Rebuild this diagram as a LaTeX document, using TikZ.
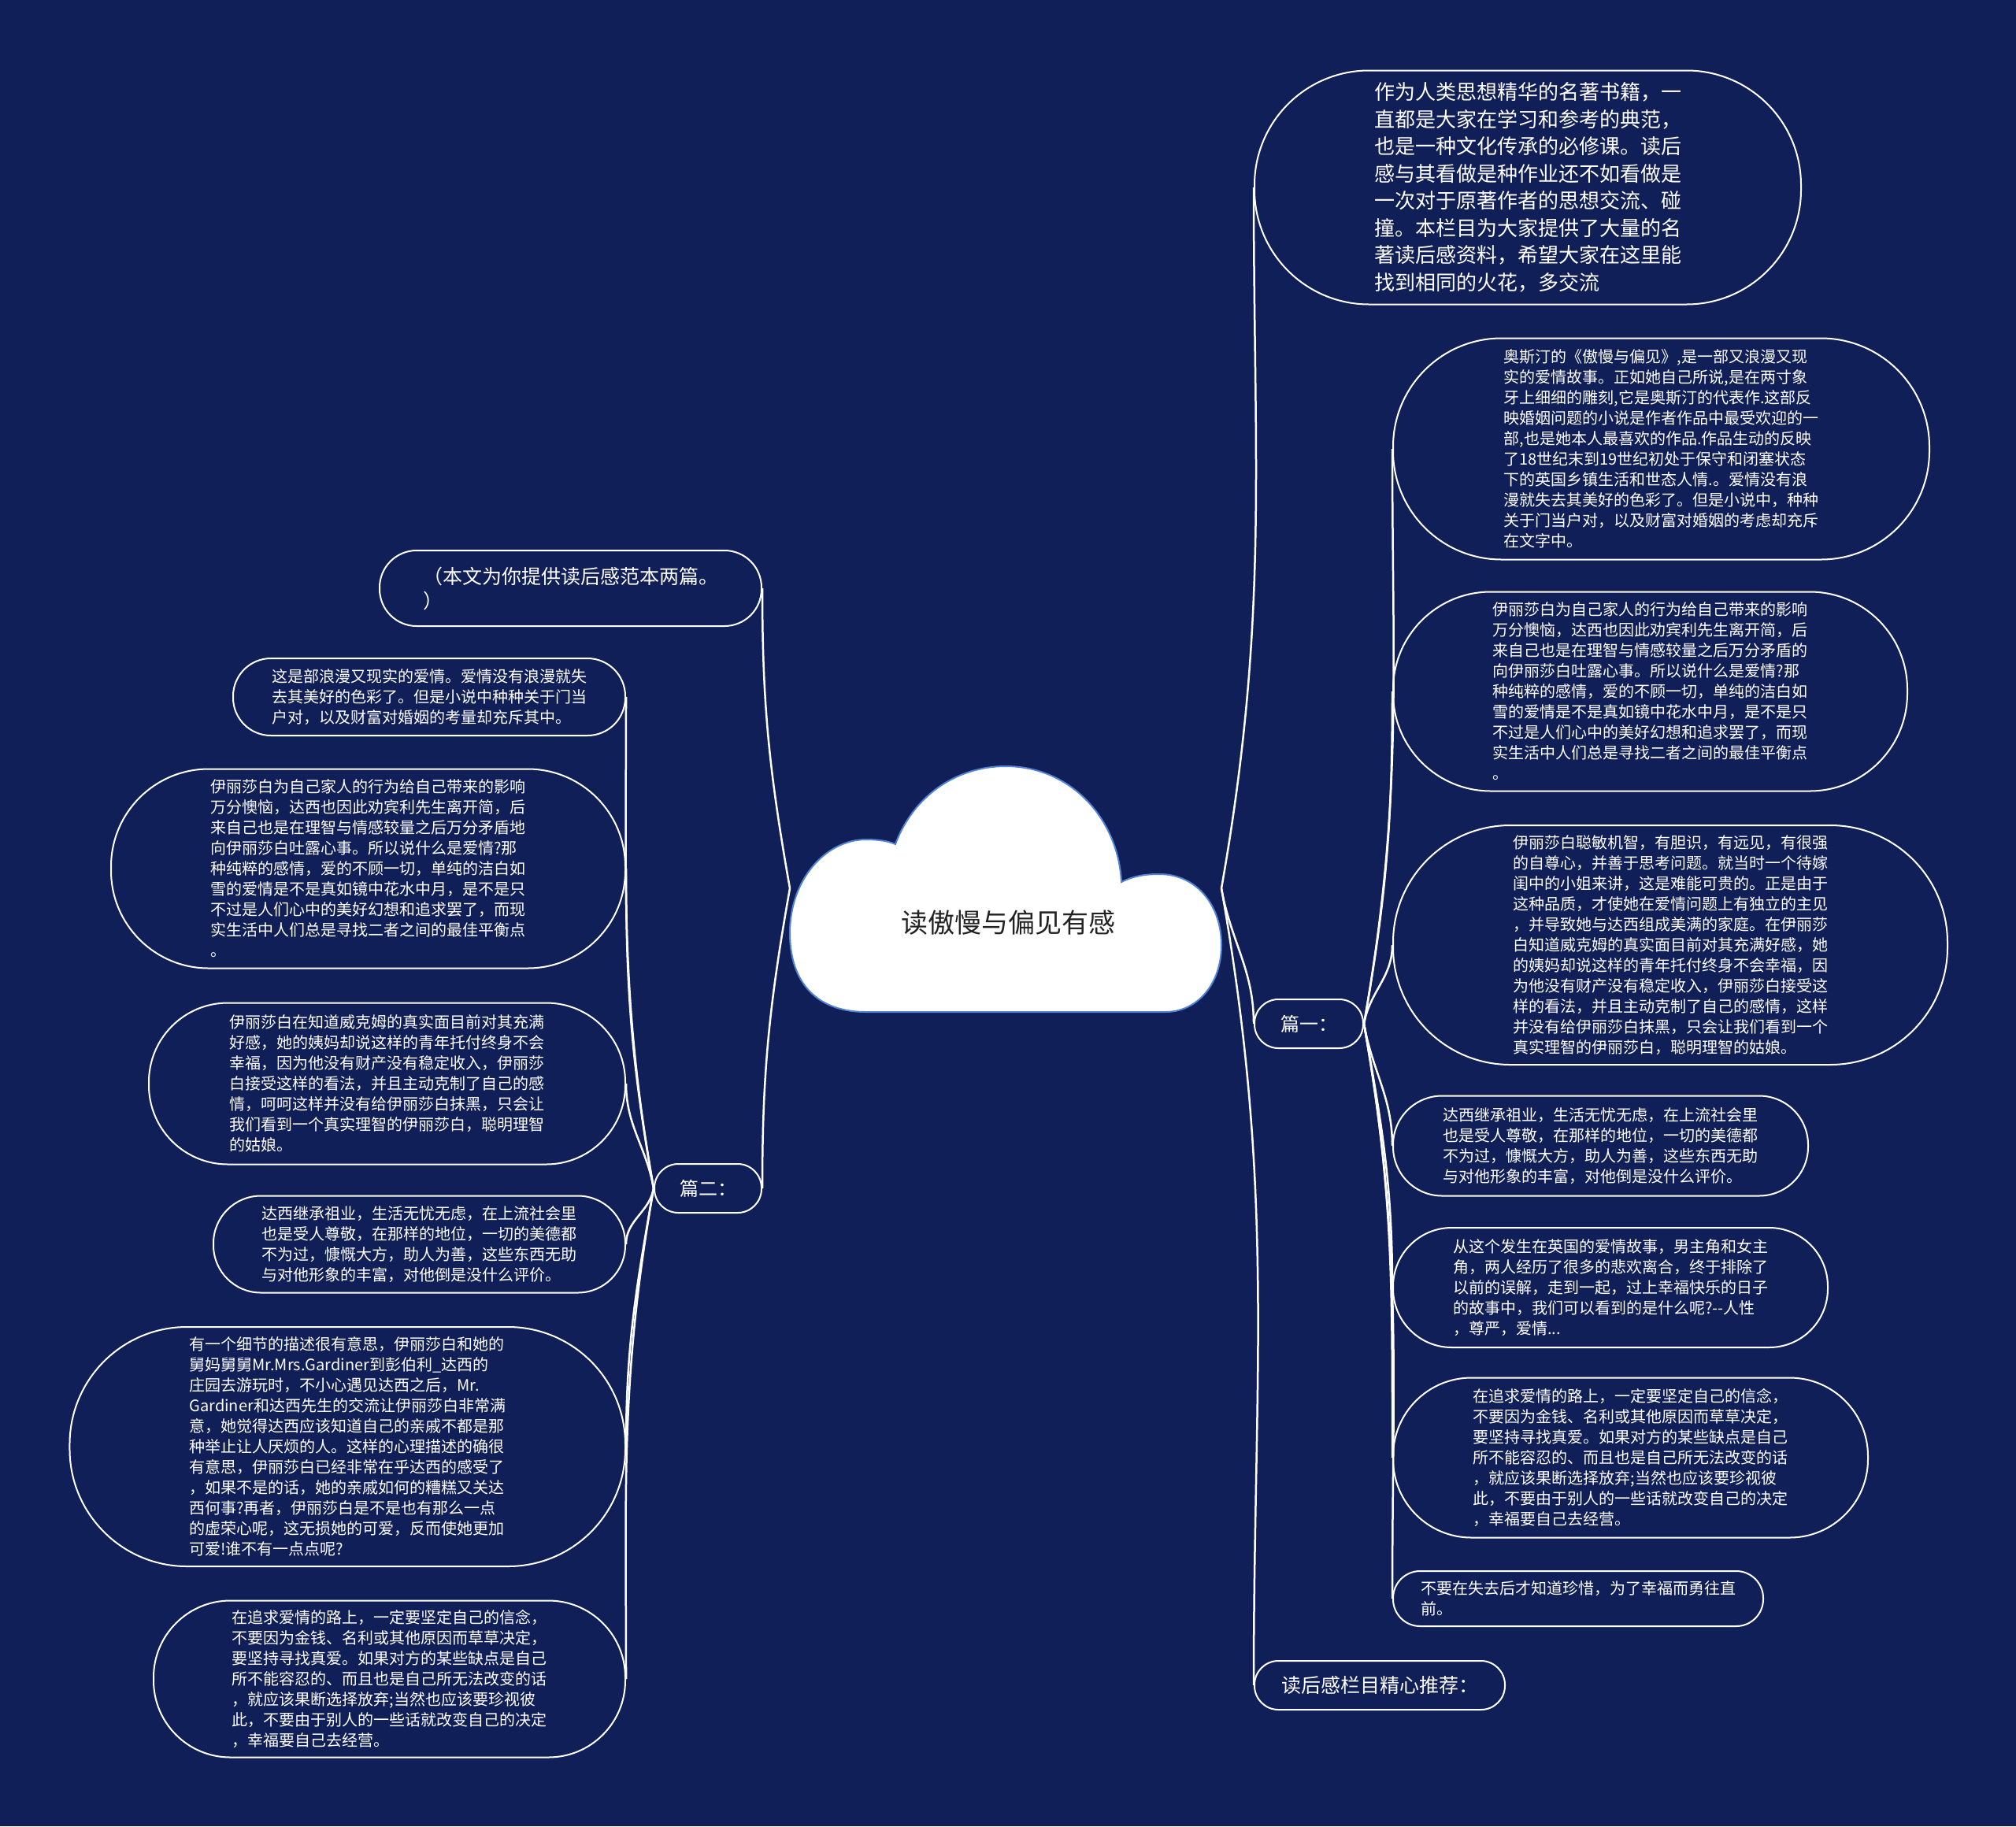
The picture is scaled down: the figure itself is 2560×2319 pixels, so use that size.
\documentclass[tikz,border=0pt]{standalone}
\usepackage{fontspec}
\setmainfont{Noto Sans CJK SC}
\definecolor{navy}{RGB}{17,31,89}
\definecolor{cloudline}{RGB}{84,130,210}
\definecolor{titlegray}{RGB}{34,34,34}

\begin{document}
\begin{tikzpicture}[
    x=1pt, y=-1pt,
    link/.style={white, line width=2.5pt},
    rise/.style={out=80, in=-90},
    fall/.style={out=-80, in=90},
    lrise/.style={out=100, in=-90},
    lfall/.style={out=-100, in=90},
    leaf/.style={rectangle, draw=white, line width=2pt, text=white,
                 align=left, inner ysep=0pt, minimum height=#1,
                 inner xsep=#1/2, rounded corners=0.49*#1,
                 font=\fontsize{20pt}{26pt}\selectfont},
    tag/.style={leaf=62, font=\fontsize{24pt}{30pt}\selectfont}
  ]
  % background
  \fill[navy] (0,0) rectangle (2560,2319);
  \useasboundingbox (0,0) rectangle (2560,2319);

  % centre cloud
  \filldraw[fill=white, draw=cloudline, line width=2pt]
    (1100,1285) .. controls (1030,1285) and (1003,1240) .. (1003,1185)
    .. controls (1003,1115) and (1050,1066) .. (1100,1066)
    .. controls (1115,1066) and (1128,1068) .. (1137,1072)
    .. controls (1160,1010) and (1215,973) .. (1277,973)
    .. controls (1360,973) and (1420,1040) .. (1424,1120)
    .. controls (1440,1112) and (1455,1110) .. (1472,1110)
    .. controls (1520,1110) and (1551,1150) .. (1551,1200)
    .. controls (1551,1250) and (1520,1285) .. (1480,1285)
    -- cycle;
  \node[font=\fontsize{34pt}{40pt}\selectfont, text=titlegray] (root) at (1280,1172) {读傲慢与偏见有感};
  \coordinate (rootE) at (1551,1128);
  \coordinate (rootW) at (1003,1128);

  % right side
  \node[leaf=297, inner xsep=152, anchor=west, font=\fontsize{26pt}{34.5pt}\selectfont] (intro) at (1592,238)
    {作为人类思想精华的名著书籍，一\\直都是大家在学习和参考的典范，\\也是一种文化传承的必修课。读后\\感与其看做是种作业还不如看做是\\一次对于原著作者的思想交流、碰\\撞。本栏目为大家提供了大量的名\\著读后感资料，希望大家在这里能\\找到相同的火花，多交流};
  \node[tag, inner xsep=33, anchor=west] (p1) at (1592,1300) {篇一：};
  \node[tag, inner xsep=34, anchor=west, font=\fontsize{25pt}{30pt}\selectfont] (more) at (1592,2140) {读后感栏目精心推荐：};

  \node[leaf=281, anchor=west] (r1) at (1768,570)
    {奥斯汀的《傲慢与偏见》,是一部又浪漫又现\\实的爱情故事。正如她自己所说,是在两寸象\\牙上细细的雕刻,它是奥斯汀的代表作.这部反\\映婚姻问题的小说是作者作品中最受欢迎的一\\部,也是她本人最喜欢的作品.作品生动的反映\\了18世纪末到19世纪初处于保守和闭塞状态\\下的英国乡镇生活和世态人情.。爱情没有浪\\漫就失去其美好的色彩了。但是小说中，种种\\关于门当户对，以及财富对婚姻的考虑却充斥\\在文字中。};
  \node[leaf=253, anchor=west] (r2) at (1768,878)
    {伊丽莎白为自己家人的行为给自己带来的影响\\万分懊恼，达西也因此劝宾利先生离开简，后\\来自己也是在理智与情感较量之后万分矛盾的\\向伊丽莎白吐露心事。所以说什么是爱情?那\\种纯粹的感情，爱的不顾一切，单纯的洁白如\\雪的爱情是不是真如镜中花水中月，是不是只\\不过是人们心中的美好幻想和追求罢了，而现\\实生活中人们总是寻找二者之间的最佳平衡点\\。};
  \node[leaf=304, anchor=west] (r3) at (1768,1200)
    {伊丽莎白聪敏机智，有胆识，有远见，有很强\\的自尊心，并善于思考问题。就当时一个待嫁\\闺中的小姐来讲，这是难能可贵的。正是由于\\这种品质，才使她在爱情问题上有独立的主见\\，并导致她与达西组成美满的家庭。在伊丽莎\\白知道威克姆的真实面目前对其充满好感，她\\的姨妈却说这样的青年托付终身不会幸福，因\\为他没有财产没有稳定收入，伊丽莎白接受这\\样的看法，并且主动克制了自己的感情，这样\\并没有给伊丽莎白抹黑，只会让我们看到一个\\真实理智的伊丽莎白，聪明理智的姑娘。};
  \node[leaf=127, anchor=west] (r4) at (1768,1455)
    {达西继承祖业，生活无忧无虑，在上流社会里\\也是受人尊敬，在那样的地位，一切的美德都\\不为过，慷慨大方，助人为善，这些东西无助\\与对他形象的丰富，对他倒是没什么评价。};
  \node[leaf=152, anchor=west] (r5) at (1768,1635)
    {从这个发生在英国的爱情故事，男主角和女主\\角，两人经历了很多的悲欢离合，终于排除了\\以前的误解，走到一起，过上幸福快乐的日子\\的故事中，我们可以看到的是什么呢?-{}-人性\\，尊严，爱情...};
  \node[leaf=203, anchor=west] (r6) at (1768,1851)
    {在追求爱情的路上，一定要坚定自己的信念，\\不要因为金钱、名利或其他原因而草草决定，\\要坚持寻找真爱。如果对方的某些缺点是自己\\所不能容忍的、而且也是自己所无法改变的话\\，就应该果断选择放弃;当然也应该要珍视彼\\此，不要由于别人的一些话就改变自己的决定\\，幸福要自己去经营。};
  \node[leaf=70, anchor=west] (r7) at (1768,2030)
    {不要在失去后才知道珍惜，为了幸福而勇往直\\前。};

  % left side
  \node[leaf=96, inner xsep=55, anchor=east, font=\fontsize{25pt}{31pt}\selectfont] (note) at (968,747)
    {（本文为你提供读后感范本两篇。\\）};
  \node[tag, inner xsep=32, anchor=east] (p2) at (968,1509) {篇二：};

  \node[leaf=98, anchor=east] (l1) at (795,885)
    {这是部浪漫又现实的爱情。爱情没有浪漫就失\\去其美好的色彩了。但是小说中种种关于门当\\户对，以及财富对婚姻的考量却充斥其中。};
  \node[leaf=253, anchor=east] (l2) at (795,1103)
    {伊丽莎白为自己家人的行为给自己带来的影响\\万分懊恼，达西也因此劝宾利先生离开简，后\\来自己也是在理智与情感较量之后万分矛盾地\\向伊丽莎白吐露心事。所以说什么是爱情?那\\种纯粹的感情，爱的不顾一切，单纯的洁白如\\雪的爱情是不是真如镜中花水中月，是不是只\\不过是人们心中的美好幻想和追求罢了，而现\\实生活中人们总是寻找二者之间的最佳平衡点\\。};
  \node[leaf=205, anchor=east] (l3) at (795,1376)
    {伊丽莎白在知道威克姆的真实面目前对其充满\\好感，她的姨妈却说这样的青年托付终身不会\\幸福，因为他没有财产没有稳定收入，伊丽莎\\白接受这样的看法，并且主动克制了自己的感\\情，呵呵这样并没有给伊丽莎白抹黑，只会让\\我们看到一个真实理智的伊丽莎白，聪明理智\\的姑娘。};
  \node[leaf=123, anchor=east] (l4) at (795,1580)
    {达西继承祖业，生活无忧无虑，在上流社会里\\也是受人尊敬，在那样的地位，一切的美德都\\不为过，慷慨大方，助人为善，这些东西无助\\与对他形象的丰富，对他倒是没什么评价。};
  \node[leaf=304, anchor=east] (l5) at (795,1837)
    {有一个细节的描述很有意思，伊丽莎白和她的\\舅妈舅舅Mr.Mrs.Gardiner到彭伯利\_达西的\\庄园去游玩时，不小心遇见达西之后，Mr.\\Gardiner和达西先生的交流让伊丽莎白非常满\\意，她觉得达西应该知道自己的亲戚不都是那\\种举止让人厌烦的人。这样的心理描述的确很\\有意思，伊丽莎白已经非常在乎达西的感受了\\，如果不是的话，她的亲戚如何的糟糕又关达\\西何事?再者，伊丽莎白是不是也有那么一点\\的虚荣心呢，这无损她的可爱，反而使她更加\\可爱!谁不有一点点呢?};
  \node[leaf=199, anchor=east] (l6) at (795,2132)
    {在追求爱情的路上，一定要坚定自己的信念，\\不要因为金钱、名利或其他原因而草草决定，\\要坚持寻找真爱。如果对方的某些缺点是自己\\所不能容忍的、而且也是自己所无法改变的话\\，就应该果断选择放弃;当然也应该要珍视彼\\此，不要由于别人的一些话就改变自己的决定\\，幸福要自己去经营。};

  % connectors
  \draw[link] (rootE) to[rise] (intro.west);
  \draw[link] (rootE) to[fall] (p1.west);
  \draw[link] (rootE) to[fall] (more.west);
  \foreach \n in {r1, r2, r3}
    \draw[link] (p1.east) to[rise] (\n.west);
  \foreach \n in {r4, r5, r6, r7}
    \draw[link] (p1.east) to[fall] (\n.west);
  \draw[link] (rootW) to[lrise] (note.east);
  \draw[link] (rootW) to[lfall] (p2.east);
  \foreach \n in {l1, l2, l3}
    \draw[link] (p2.west) to[lrise] (\n.east);
  \foreach \n in {l4, l5, l6}
    \draw[link] (p2.west) to[lfall] (\n.east);
\end{tikzpicture}
\end{document}
